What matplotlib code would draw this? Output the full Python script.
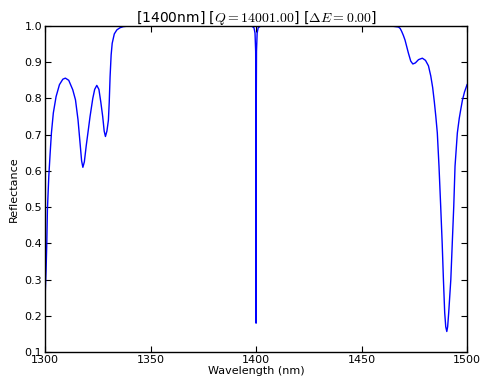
import matplotlib
matplotlib.use("Agg")
import matplotlib.pyplot as plt

# reflectance spectrum
wavelength = [
    1300.0, 1300.1, 1300.47, 1300.8, 1301.1, 1301.75, 1302.4, 1303.0, 1303.9,
    1305.2, 1306.8, 1308.4, 1309.6, 1311.2, 1313.1, 1314.4, 1315.6, 1316.7,
    1317.3, 1317.9, 1318.6, 1319.5, 1320.5, 1321.3, 1322.6, 1323.5,
    1324.5, 1325.5, 1326.4, 1327.3, 1328.0, 1328.6, 1329.3, 1330.0, 1330.4,
    1330.8, 1331.3, 1331.8, 1332.8, 1334.0, 1335.5, 1337.0, 1340.0, 1360.0,
    1380.0, 1398.0, 1399.0, 1399.5, 1399.8, 1399.9, 1400.0, 1400.1, 1400.2,
    1400.5, 1401.0, 1402.0, 1420.0, 1440.0, 1455.0, 1462.0, 1465.0, 1467.5,
    1468.3, 1469.0, 1469.8, 1470.6, 1471.4, 1472.2, 1473.3, 1474.3, 1475.5,
    1477.0, 1478.8, 1480.3, 1481.7, 1482.8, 1483.7, 1484.5, 1485.2, 1485.9,
    1486.7, 1487.5, 1488.2, 1488.8, 1489.4, 1489.9, 1490.4, 1490.8, 1491.3,
    1492.3, 1493.0, 1493.7, 1494.3, 1495.4, 1496.3, 1497.0, 1497.8, 1498.8,
    1500.0,
]
reflectance = [
    0.25, 0.27, 0.328, 0.402, 0.494, 0.585, 0.65, 0.705, 0.76,
    0.805, 0.838, 0.853, 0.856, 0.85, 0.824, 0.796, 0.741, 0.668,
    0.628, 0.61, 0.625, 0.67, 0.714, 0.75, 0.80, 0.825,
    0.836, 0.825, 0.79, 0.75, 0.71, 0.695, 0.71, 0.74, 0.79,
    0.86, 0.92, 0.952, 0.978, 0.989, 0.995, 0.998, 1.0, 1.0,
    1.0, 0.999, 0.995, 0.98, 0.93, 0.80, 0.18, 0.80, 0.93,
    0.98, 0.995, 0.999, 1.0, 1.0, 1.0, 0.9995, 0.999, 0.997,
    0.993, 0.985, 0.974, 0.961, 0.943, 0.925, 0.903, 0.895, 0.898,
    0.907, 0.911, 0.905, 0.89, 0.862, 0.83, 0.79, 0.75, 0.705,
    0.613, 0.503, 0.402, 0.30, 0.209, 0.17, 0.157, 0.17, 0.209,
    0.30, 0.402, 0.503, 0.613, 0.705, 0.745, 0.769, 0.795, 0.818,
    0.838,
]

x_ticks = [1300, 1350, 1400, 1450, 1500]
y_ticks = [0.1, 0.2, 0.3, 0.4, 0.5, 0.6, 0.7, 0.8, 0.9, 1.0]

plt.rcParams['mathtext.fontset'] = 'cm'
plt.rcParams['font.size'] = 8

fig = plt.figure(figsize=(4.85, 3.87), dpi=100)
ax = fig.add_axes([0.093, 0.09, 0.87, 0.843])

ax.plot(wavelength, reflectance, color='b', linewidth=1)

ax.set_xlim(1300, 1500)
ax.set_ylim(0.1, 1.0)
ax.set_xticks(x_ticks)
ax.set_yticks(y_ticks)
ax.set_yticklabels([f'{v:.1f}' for v in y_ticks])
ax.tick_params(direction='in', top=True, right=True, length=4, width=0.8,
               pad=2, labelsize=8)
for sp in ax.spines.values():
    sp.set_linewidth(1)

ax.set_xlabel('Wavelength (nm)', fontsize=8, labelpad=1)
ax.set_ylabel('Reflectance', fontsize=8, labelpad=4)
ax.set_title(r'[1400nm] [$Q=14001.00$] [$\Delta E=0.00$]', fontsize=10, pad=3)

fig.savefig('out.png', dpi=100)
